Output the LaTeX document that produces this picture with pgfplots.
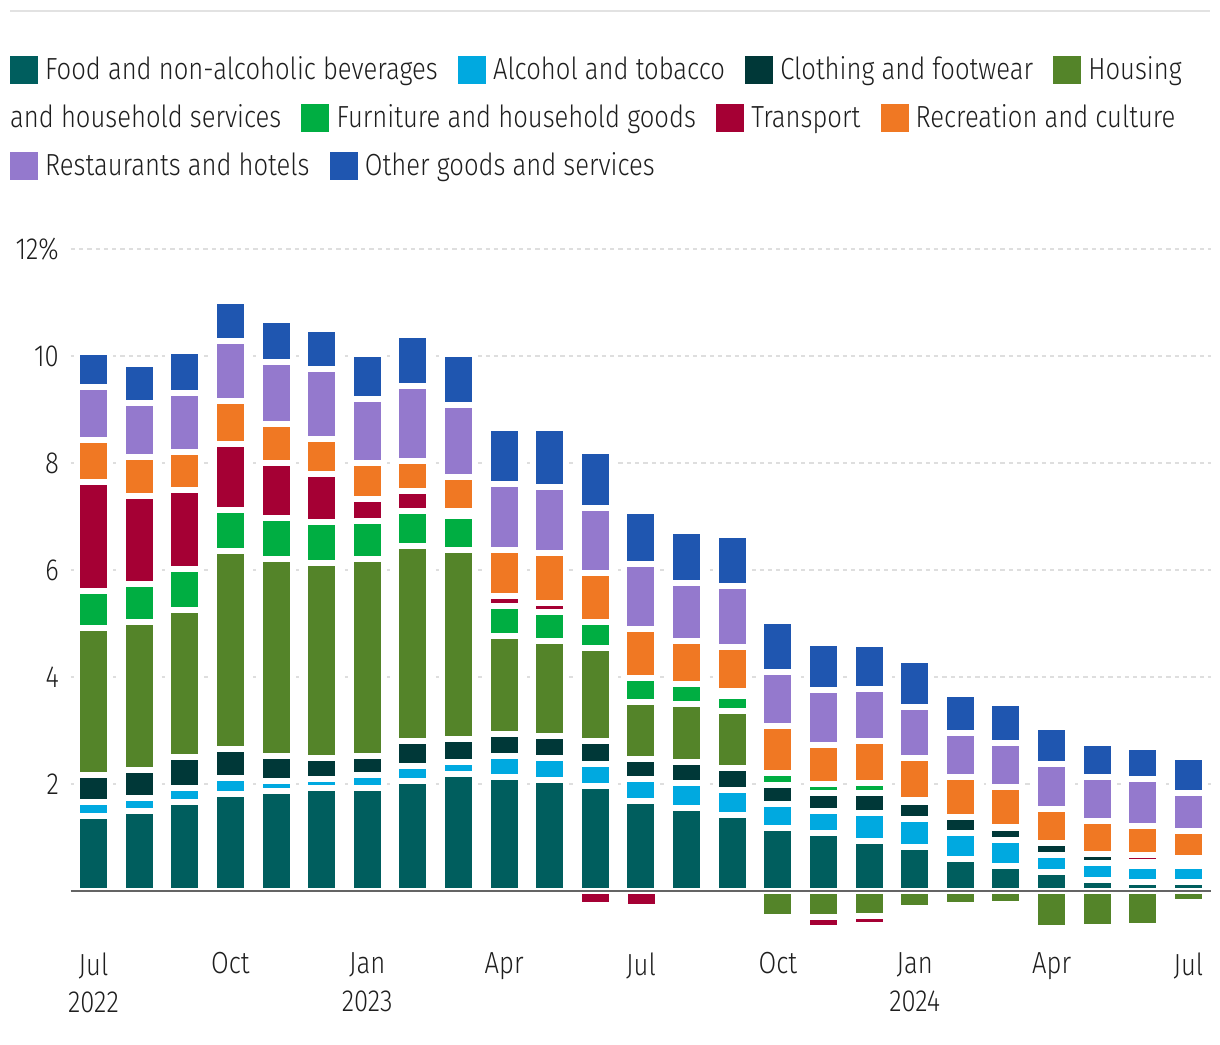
\documentclass[border=0pt]{standalone}
\usepackage{fontspec}
\setmainfont[FakeStretch=0.84]{Fira Sans Light}
\usepackage{pgfplots}
\usepackage{pgfplotstable}
\pgfplotsset{compat=1.18}
\usetikzlibrary{calc}

\definecolor{cFood}{RGB}{0,94,94}
\definecolor{cAlc}{RGB}{0,169,224}
\definecolor{cCloth}{RGB}{0,56,56}
\definecolor{cHous}{RGB}{84,132,41}
\definecolor{cFurn}{RGB}{0,174,66}
\definecolor{cTrans}{RGB}{165,0,52}
\definecolor{cRec}{RGB}{240,120,35}
\definecolor{cRest}{RGB}{148,121,205}
\definecolor{cOther}{RGB}{31,86,176}
\definecolor{textgray}{RGB}{30,30,30}
\definecolor{gridgray}{RGB}{222,222,222}
\definecolor{basegray}{RGB}{100,100,100}
\definecolor{topgray}{RGB}{226,226,226}

\pgfplotstableread{
x food alc cloth hous furn trans rec rest other
0  1.41 0.26 0.49 2.76 0.69 2.03 0.79 0.99 0.65
1  1.49 0.24 0.54 2.75 0.71 1.66 0.73 1.00 0.73
2  1.66 0.26 0.58 2.76 0.76 1.47 0.71 1.10 0.79
3  1.82 0.30 0.54 3.70 0.77 1.23 0.80 1.12 0.75
4  1.86 0.20 0.47 3.68 0.76 1.03 0.73 1.16 0.78
5  1.92 0.18 0.39 3.64 0.76 0.90 0.65 1.31 0.75
6  1.92 0.24 0.37 3.68 0.71 0.41 0.67 1.19 0.84
7  2.06 0.27 0.48 3.64 0.65 0.38 0.56 1.40 0.95
8  2.18 0.24 0.43 3.53 0.62 0.10 0.63 1.36 0.95
9  2.14 0.39 0.41 1.83 0.56 0.19 0.86 1.23 1.05
10 2.07 0.41 0.41 1.79 0.54 0.17 0.92 1.25 1.10
11 1.96 0.41 0.43 1.74 0.49 0.00 0.92 1.20 1.07
12 1.69 0.41 0.37 1.07 0.45 0.00 0.90 1.23 0.99
13 1.56 0.45 0.41 1.08 0.37 0.00 0.80 1.08 0.97
14 1.42 0.47 0.41 1.07 0.28 0.09 0.82 1.14 0.95
15 1.17 0.45 0.37 0.00 0.22 0.00 0.88 1.01 0.94
16 1.08 0.41 0.34 0.00 0.17 0.00 0.73 1.03 0.88
17 0.93 0.52 0.39 0.00 0.17 0.00 0.79 0.97 0.84
18 0.82 0.52 0.32 0.00 0.04 0.00 0.78 0.95 0.88
19 0.59 0.49 0.30 0.00 0.00 0.00 0.75 0.82 0.73
20 0.46 0.49 0.22 0.00 0.02 0.00 0.75 0.82 0.75
21 0.35 0.32 0.22 0.00 0.00 0.00 0.64 0.84 0.69
22 0.20 0.32 0.17 0.00 0.00 0.00 0.62 0.82 0.64
23 0.16 0.30 0.09 0.00 0.00 0.13 0.54 0.88 0.60
24 0.16 0.30 0.08 0.00 0.00 0.08 0.50 0.71 0.67
}\postab

\pgfplotstableread{
x hous trans
0  0 0
1  0 0
2  0 0
3  0 0
4  0 0
5  0 0
6  0 0
7  0 0
8  0 0
9  0 0
10 0 0
11 0 -0.26
12 0 -0.30
13 0 0
14 0 0
15 -0.49 0
16 -0.49 -0.21
17 -0.47 -0.16
18 -0.31 0
19 -0.27 0
20 -0.25 0
21 -0.70 0
22 -0.68 0
23 -0.66 0
24 -0.21 0
}\negtab

\newcommand{\lblfont}{\fontsize{30.5}{37.5}\selectfont}

\pgfplotsset{
  common/.style={
    at={(70.69pt,99.5pt)}, anchor=south west, scale only axis,
    width=1140.6pt, height=695.5pt,
    xmin=-0.5, xmax=24.5, ymin=-1, ymax=12,
    ybar stacked, bar width=33pt,
    every axis plot/.append style={draw=white, line width=6pt},
    clip=false,
  }
}

\begin{document}
\begin{tikzpicture}
\useasboundingbox (0pt,0pt) rectangle (1220pt,1044pt);
\begin{scope}[x=1pt,y=1pt,
  lg/.style={anchor=base west, inner sep=0pt, font=\lblfont, text=textgray}]
\draw[topgray, line width=1.5pt] (10,1033) -- (1210,1033);
% legend
\fill[cFood] (10,960) rectangle ++(28,28);
\node[lg] (t1) at (45,964) {Food and non-alcoholic beverages};
\fill[cAlc] ($(t1.base east)+(20,-4)$) rectangle ++(28,28);
\node[lg] (t2) at ($(t1.base east)+(55,0)$) {Alcohol and tobacco};
\fill[cCloth] ($(t2.base east)+(20,-4)$) rectangle ++(28,28);
\node[lg] (t3) at ($(t2.base east)+(55,0)$) {Clothing and footwear};
\fill[cHous] ($(t3.base east)+(20,-4)$) rectangle ++(28,28);
\node[lg] (t4) at ($(t3.base east)+(55,0)$) {Housing};
\node[lg] (t5) at (10,916) {and household services};
\fill[cFurn] ($(t5.base east)+(20,-4)$) rectangle ++(28,28);
\node[lg] (t6) at ($(t5.base east)+(55,0)$) {Furniture and household goods};
\fill[cTrans] ($(t6.base east)+(20,-4)$) rectangle ++(28,28);
\node[lg] (t7) at ($(t6.base east)+(55,0)$) {Transport};
\fill[cRec] ($(t7.base east)+(20,-4)$) rectangle ++(28,28);
\node[lg] (t8) at ($(t7.base east)+(55,0)$) {Recreation and culture};
\fill[cRest] (10,864) rectangle ++(28,28);
\node[lg] (t9) at (45,868) {Restaurants and hotels};
\fill[cOther] ($(t9.base east)+(20,-4)$) rectangle ++(28,28);
\node[lg] (t10) at ($(t9.base east)+(55,0)$) {Other goods and services};
\end{scope}

\begin{axis}[
  common,
  axis line style={draw=none},
  major tick length=0pt,
  ytick={2,4,6,8,10,12},
  yticklabels={2,4,6,8,10,12\%},
  ymajorgrids,
  grid style={dash pattern=on 4.3pt off 4pt, line width=2pt, color=gridgray},
  xtick={0,3,...,24},
  xticklabels={{Jul\\2022},Oct,{Jan\\2023},Apr,Jul,Oct,{Jan\\2024},Apr,Jul},
  xticklabel style={align=center, anchor=north, inner sep=0pt, yshift=-8pt},
  yticklabel style={anchor=east, inner sep=0pt, xshift=-11.7pt},
  tick label style={font=\lblfont, text=textgray},
]
\addplot[fill=cFood] table[x=x,y=food]{\postab};
\addplot[fill=cAlc] table[x=x,y=alc]{\postab};
\addplot[fill=cCloth] table[x=x,y=cloth]{\postab};
\addplot[fill=cHous] table[x=x,y=hous]{\postab};
\addplot[fill=cFurn] table[x=x,y=furn]{\postab};
\addplot[fill=cTrans] table[x=x,y=trans]{\postab};
\addplot[fill=cRec] table[x=x,y=rec]{\postab};
\addplot[fill=cRest] table[x=x,y=rest]{\postab};
\addplot[fill=cOther] table[x=x,y=other]{\postab};
\end{axis}

\begin{axis}[common, hide axis]
\addplot[fill=cHous] table[x=x,y=hous]{\negtab};
\addplot[fill=cTrans] table[x=x,y=trans]{\negtab};
\end{axis}

\begin{axis}[common, hide axis]
\draw[basegray, line width=2.5pt] (axis cs:-0.5,0) -- (axis cs:24.5,0);
\end{axis}
\end{tikzpicture}
\end{document}
